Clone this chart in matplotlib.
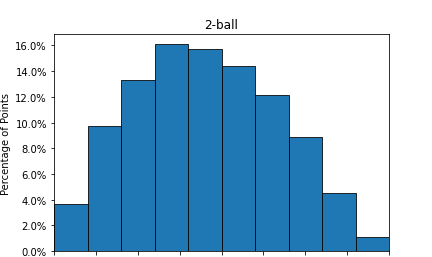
import matplotlib
matplotlib.use('Agg')
import matplotlib.pyplot as plt
import numpy as np
from matplotlib.ticker import PercentFormatter

# histogram of 2-ball points, 10 bins over 0..8
bin_edges = np.linspace(0, 8, 11)
pct = [3.65, 9.73, 13.33, 16.08, 15.74, 14.42, 12.17, 8.91, 4.48, 1.06]

fig = plt.figure(figsize=(6, 3.583), dpi=72)
ax = fig.add_axes([0.125, 0.0233, 0.7755, 0.8406])

ax.bar(bin_edges[:-1], pct, width=np.diff(bin_edges), align='edge',
       color='#1f77b4', edgecolor='black', linewidth=0.8)
ax.set_xlim(bin_edges[0], bin_edges[-1])
ax.set_ylim(0, max(pct) * 1.05)
ax.set_xticks(np.arange(0, 9))
ax.set_xticklabels([])
ax.set_yticks(np.arange(0, 17, 2))
ax.yaxis.set_major_formatter(PercentFormatter(decimals=1))
ax.set_ylabel('Percentage of Points')
ax.set_title('2-ball')

fig.savefig('out.png', dpi=72)
